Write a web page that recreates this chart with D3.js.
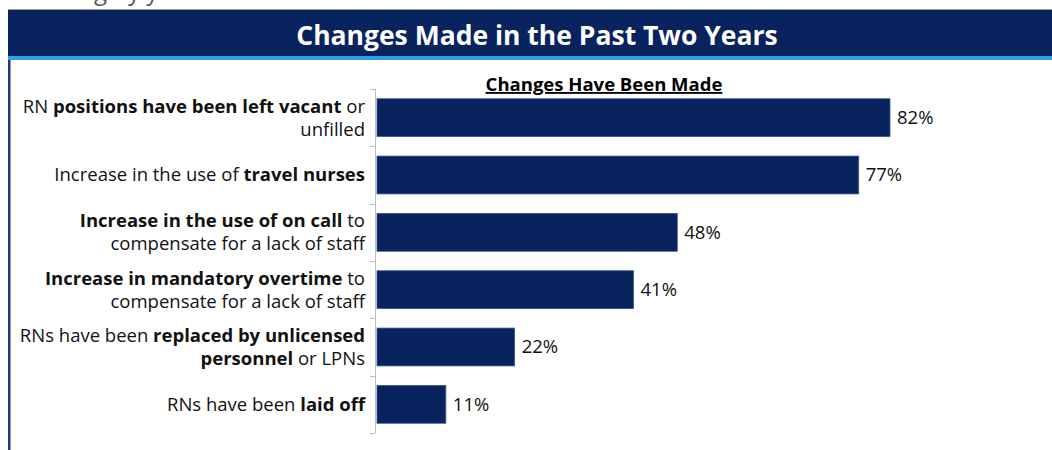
<!DOCTYPE html>
<html>
<head>
<meta charset="utf-8">
<script src="https://cdn.jsdelivr.net/npm/d3@7"></script>
<style>
  body { margin: 0; background: #fff; }
  svg { display: block; font-family: "Open Sans", "Noto Sans", sans-serif; }
</style>
</head>
<body>
<script>
// chart data
// "**" marks bold runs, "|" splits the label onto two lines
var categories = [
  "RN **positions have been left vacant** or|unfilled",
  "Increase in the use of **travel nurses**",
  "**Increase in the use of on call** to|compensate for a lack of staff",
  "**Increase in mandatory overtime** to|compensate for a lack of staff",
  "RNs have been **replaced by unlicensed**|**personnel** or LPNs",
  "RNs have been **laid off**"
];
var values = [82, 77, 48, 41, 22, 11];
var title = "Changes Made in the Past Two Years";
var seriesName = "Changes Have Been Made";

var W = 1052, H = 450;
var navy = "#08235e";

var svg = d3.select("body").append("svg")
    .attr("width", W)
    .attr("height", H);

// clipped text from the slide above (only descenders show)
svg.append("text")
    .attr("x", 22)
    .attr("y", 0)
    .attr("font-size", 24)
    .attr("fill", "#555")
    .text("Staffing by year");

// frame: title bar, blue stripe, left rule
svg.append("line")
    .attr("x1", 8).attr("x2", W).attr("y1", 9.5).attr("y2", 9.5)
    .attr("stroke", "#9a9a9a");
svg.append("rect")
    .attr("x", 8).attr("y", 10).attr("width", W - 8).attr("height", 46)
    .attr("fill", navy);
svg.append("rect")
    .attr("x", 8).attr("y", 56).attr("width", W - 8).attr("height", 4)
    .attr("fill", "#2e9fe6");
svg.append("rect")
    .attr("x", 8).attr("y", 60).attr("width", 2.5).attr("height", H - 60)
    .attr("fill", "#1a3a7a");

svg.append("text")
    .attr("x", 537)
    .attr("y", 45)
    .attr("text-anchor", "middle")
    .attr("font-size", 26.5)
    .attr("font-weight", "bold")
    .attr("fill", "#fff")
    .text(title);

var margin = {top: 89, left: 375},
    height = 433 - margin.top;

var x = d3.scaleLinear().domain([0, 100]).range([0, 625.6]);
var y = d3.scaleBand().domain(d3.range(categories.length)).range([0, height]).paddingInner(0.34).paddingOuter(0.17);

var g = svg.append("g")
    .attr("transform", "translate(" + margin.left + "," + margin.top + ")");

svg.append("text")
    .attr("x", 604)
    .attr("y", 91)
    .attr("text-anchor", "middle")
    .attr("font-size", 18.5)
    .attr("font-weight", "bold")
    .attr("text-decoration", "underline")
    .attr("fill", "#000")
    .text(seriesName);

// axis line with ticks between categories
var step = height / categories.length;
g.append("line")
    .attr("x1", 0.5).attr("x2", 0.5).attr("y1", 0).attr("y2", height)
    .attr("stroke", "#bfbfbf");
g.selectAll(".tick")
    .data(d3.range(categories.length + 1))
    .enter().append("line")
    .attr("x1", -5).attr("x2", 0.5)
    .attr("y1", function(d) { return Math.round(d * step) + 0.5; })
    .attr("y2", function(d) { return Math.round(d * step) + 0.5; })
    .attr("stroke", "#bfbfbf");

g.selectAll(".bar")
    .data(values)
    .enter().append("rect")
    .attr("x", 2)
    .attr("y", function(d, i) { return y(i); })
    .attr("width", function(d) { return x(d); })
    .attr("height", y.bandwidth())
    .attr("fill", navy)
    .attr("stroke", "#3a5896")
    .attr("stroke-width", 0.8);

g.selectAll(".value")
    .data(values)
    .enter().append("text")
    .attr("x", function(d) { return x(d) + 9; })
    .attr("y", function(d, i) { return y(i) + y.bandwidth() / 2; })
    .attr("dy", "0.35em")
    .attr("font-size", 18.5)
    .attr("fill", "#111")
    .text(function(d) { return d + "%"; });

// category labels, right aligned, mixed weight
categories.forEach(function(c, i) {
  var lines = c.split("|");
  var cy = y(i) + y.bandwidth() / 2;
  lines.forEach(function(line, j) {
    var t = g.append("text")
        .attr("x", -10)
        .attr("y", cy + (j - (lines.length - 1) / 2) * 23)
        .attr("dy", "0.35em")
        .attr("text-anchor", "end")
        .attr("font-size", 18.5)
        .attr("fill", "#111");
    line.split("**").forEach(function(part, k) {
      if (part === "") return;
      t.append("tspan")
          .attr("font-weight", k % 2 ? "bold" : "normal")
          .text(part);
    });
  });
});
</script>
</body>
</html>
